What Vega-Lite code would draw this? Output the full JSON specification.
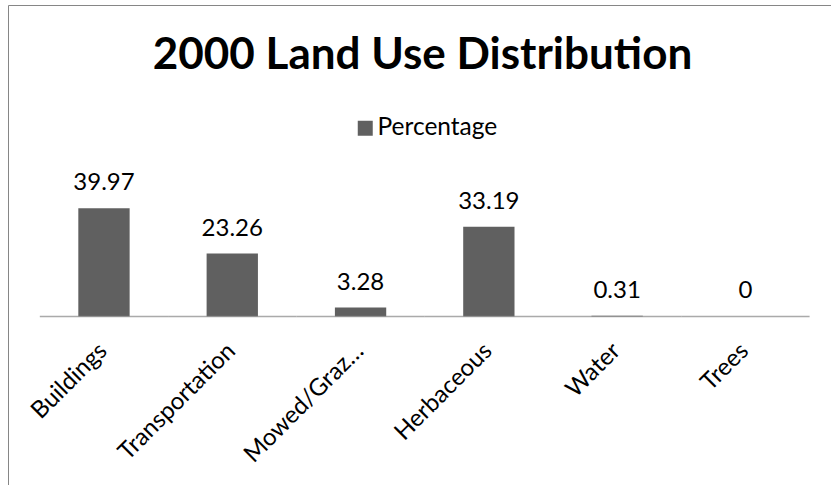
{
  "$schema": "https://vega.github.io/schema/vega-lite/v6.json",
  "width": 823,
  "height": 480,
  "autosize": {"type": "none"},
  "padding": {"left": 8, "top": 5, "right": 0, "bottom": 0},
  "title": {
    "text": "2000 Land Use Distribution",
    "anchor": "middle",
    "frame": "group",
    "fontSize": 44,
    "fontWeight": "bold",
    "font": "Lato",
    "color": "#000000",
    "offset": 0,
    "baseline": "alphabetic",
    "dy": 108,
    "dx": 3
  },
  "data": {
    "values": [
      {"category": "Buildings", "percentage": 39.97},
      {"category": "Transportation", "percentage": 23.26},
      {"category": "Mowed/Graz…", "percentage": 3.28},
      {"category": "Herbaceous", "percentage": 33.19},
      {"category": "Water", "percentage": 0.31},
      {"category": "Trees", "percentage": 0}
    ]
  },
  "layer": [
    {
      "mark": {"type": "bar", "color": "#606060"},
      "encoding": {
        "x": {
          "field": "category", "type": "nominal", "sort": null,
          "scale": {"paddingInner": 0.6, "paddingOuter": 0.5075, "align": 0.54},
          "axis": {
            "orient": "bottom", "offset": -168.5, "domain": false, "ticks": false,
            "labelAngle": -45, "labelFontSize": 24, "labelColor": "#000000",
            "labelPadding": 22, "labelOffset": -9, "title": null, "labelLimit": 0, "grid": false
          }
        },
        "y": {
          "field": "percentage", "type": "quantitative",
          "scale": {"domain": [-62.25, 115.07], "nice": false, "zero": false},
          "axis": {
            "orient": "left", "domain": true, "domainColor": "#868686", "domainWidth": 1,
            "ticks": false, "labels": false, "grid": false, "title": null
          }
        },
        "y2": {"datum": 0},
        "color": {
          "datum": "Percentage", "type": "nominal",
          "scale": {"range": ["#606060"]},
          "legend": {
            "orient": "none", "legendX": 345, "legendY": 111, "title": null,
            "symbolType": "square", "symbolSize": 225, "symbolStrokeWidth": 0,
            "labelFontSize": 24.5, "labelColor": "#000000", "labelOffset": 0,
            "symbolOpacity": 1
          }
        }
      }
    },
    {
      "mark": {"type": "text", "baseline": "alphabetic", "dy": -18, "fontSize": 24, "color": "#000000"},
      "encoding": {
        "x": {
          "field": "category", "type": "nominal", "sort": null,
          "scale": {"paddingInner": 0.6, "paddingOuter": 0.5075, "align": 0.54},
          "axis": null
        },
        "y": {
          "field": "percentage", "type": "quantitative",
          "scale": {"domain": [-62.25, 115.07], "nice": false, "zero": false},
          "axis": null
        },
        "text": {"field": "percentage", "type": "quantitative"}
      }
    },
    {
      "mark": {"type": "tick", "color": "#868686", "thickness": 1.5, "size": 128.3},
      "encoding": {
        "x": {
          "field": "category", "type": "nominal", "sort": null,
          "scale": {"paddingInner": 0.6, "paddingOuter": 0.5075, "align": 0.54},
          "axis": {
            "orient": "top", "labels": false, "ticks": false, "domain": true,
            "domainColor": "#868686", "domainWidth": 1, "title": null, "grid": false
          }
        },
        "y": {
          "datum": 0, "type": "quantitative",
          "scale": {"domain": [-62.25, 115.07], "nice": false, "zero": false},
          "axis": null
        }
      }
    }
  ],
  "resolve": {"axis": {"x": "independent", "y": "independent"}},
  "config": {"font": "Lato", "view": {"stroke": null}}
}
